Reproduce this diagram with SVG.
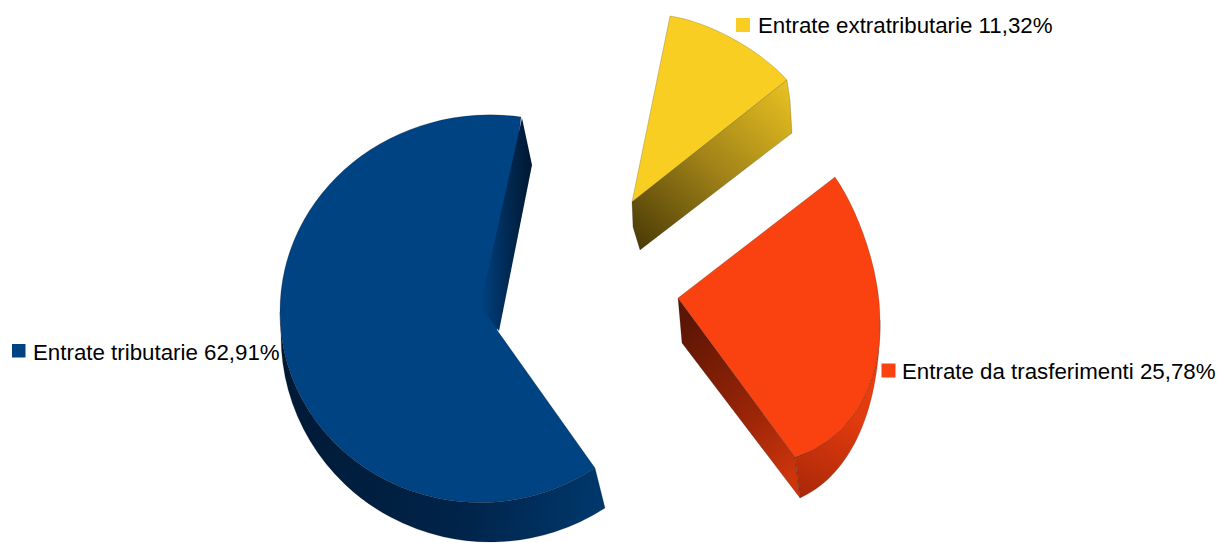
<svg xmlns="http://www.w3.org/2000/svg" width="1222" height="543" viewBox="0 0 1222 543">
<style>
  .lbl { font-family: "Liberation Sans", Arial, sans-serif; font-size: 22.3px; fill: #000; }
  .edge { stroke: #000; stroke-opacity: 0.25; stroke-width: 0.7; stroke-linejoin: round; }
</style>
<defs>
  <linearGradient id="blueBand" gradientUnits="userSpaceOnUse" x1="280" y1="420" x2="605" y2="470">
    <stop offset="0" stop-color="#001a36"/>
    <stop offset="0.6" stop-color="#00244a"/>
    <stop offset="1" stop-color="#00386c"/>
  </linearGradient>
  <linearGradient id="blueWall" x1="0" y1="0" x2="1" y2="0">
    <stop offset="0" stop-color="#004382"/>
    <stop offset="0.45" stop-color="#002d5a"/>
    <stop offset="1" stop-color="#001730"/>
  </linearGradient>
  <linearGradient id="yelWall" gradientUnits="userSpaceOnUse" x1="785" y1="85" x2="638" y2="248">
    <stop offset="0" stop-color="#e6bf20"/>
    <stop offset="0.5" stop-color="#a08218"/>
    <stop offset="1" stop-color="#4a3b06"/>
  </linearGradient>
  <linearGradient id="orWall" gradientUnits="userSpaceOnUse" x1="680" y1="330" x2="798" y2="470">
    <stop offset="0" stop-color="#5e1604"/>
    <stop offset="0.6" stop-color="#9a2508"/>
    <stop offset="1" stop-color="#cc340c"/>
  </linearGradient>
  <linearGradient id="orBand" gradientUnits="userSpaceOnUse" x1="880" y1="330" x2="800" y2="498">
    <stop offset="0" stop-color="#f5420f"/>
    <stop offset="0.5" stop-color="#e03a0e"/>
    <stop offset="1" stop-color="#a82808"/>
  </linearGradient>
</defs>

<g id="slice-tributarie">
  <path class="edge" d="M 280,312 A 200 190 0 0 0 595,468 L 605,508 A 209 206 0 0 1 281,335 Z" fill="url(#blueBand)"/>
  <path class="edge" d="M 521,117 A 210 196 0 0 0 280,312 A 200 190 0 0 0 595,468 L 497,330 Z" fill="#004382"/>
  <path d="M 522,118 L 532,165 L 499,331 L 480,307 Z" fill="url(#blueWall)"/>
</g>

<g id="slice-extratributarie">
  <path class="edge" d="M 632,202 L 670,16 C 710,22 760,50 787,80 Z" fill="#f8ce22"/>
  <path class="edge" d="M 632,202 L 787,80 L 790,100 L 792,133 L 640,250 L 633,227 Z" fill="url(#yelWall)"/>
</g>

<g id="slice-trasferimenti">
  <path class="edge" d="M 678,298 L 795,457 L 800,498 L 682,343 Z" fill="url(#orWall)"/>
  <path class="edge" d="M 880,320 C 882,385 850,440 795,457 L 800,498 C 845,478 880,420 880,320 Z" fill="url(#orBand)"/>
  <path class="edge" d="M 678,298 L 835,177 C 858,210 880,270 880,320 C 882,385 850,440 795,457 Z" fill="#f9420f"/>
</g>

<g id="legend-extratributarie">
  <rect x="736" y="18" width="14" height="14" fill="#f8ce22"/>
  <text class="lbl" x="758" y="33">Entrate extratributarie 11,32%</text>
</g>
<g id="legend-tributarie">
  <rect x="12" y="344" width="13.5" height="13.5" fill="#004382"/>
  <text class="lbl" x="33" y="360">Entrate tributarie 62,91%</text>
</g>
<g id="legend-trasferimenti">
  <rect x="881.5" y="363.5" width="14" height="14" fill="#f9420f"/>
  <text class="lbl" x="902" y="379">Entrate da trasferimenti 25,78%</text>
</g>
</svg>
